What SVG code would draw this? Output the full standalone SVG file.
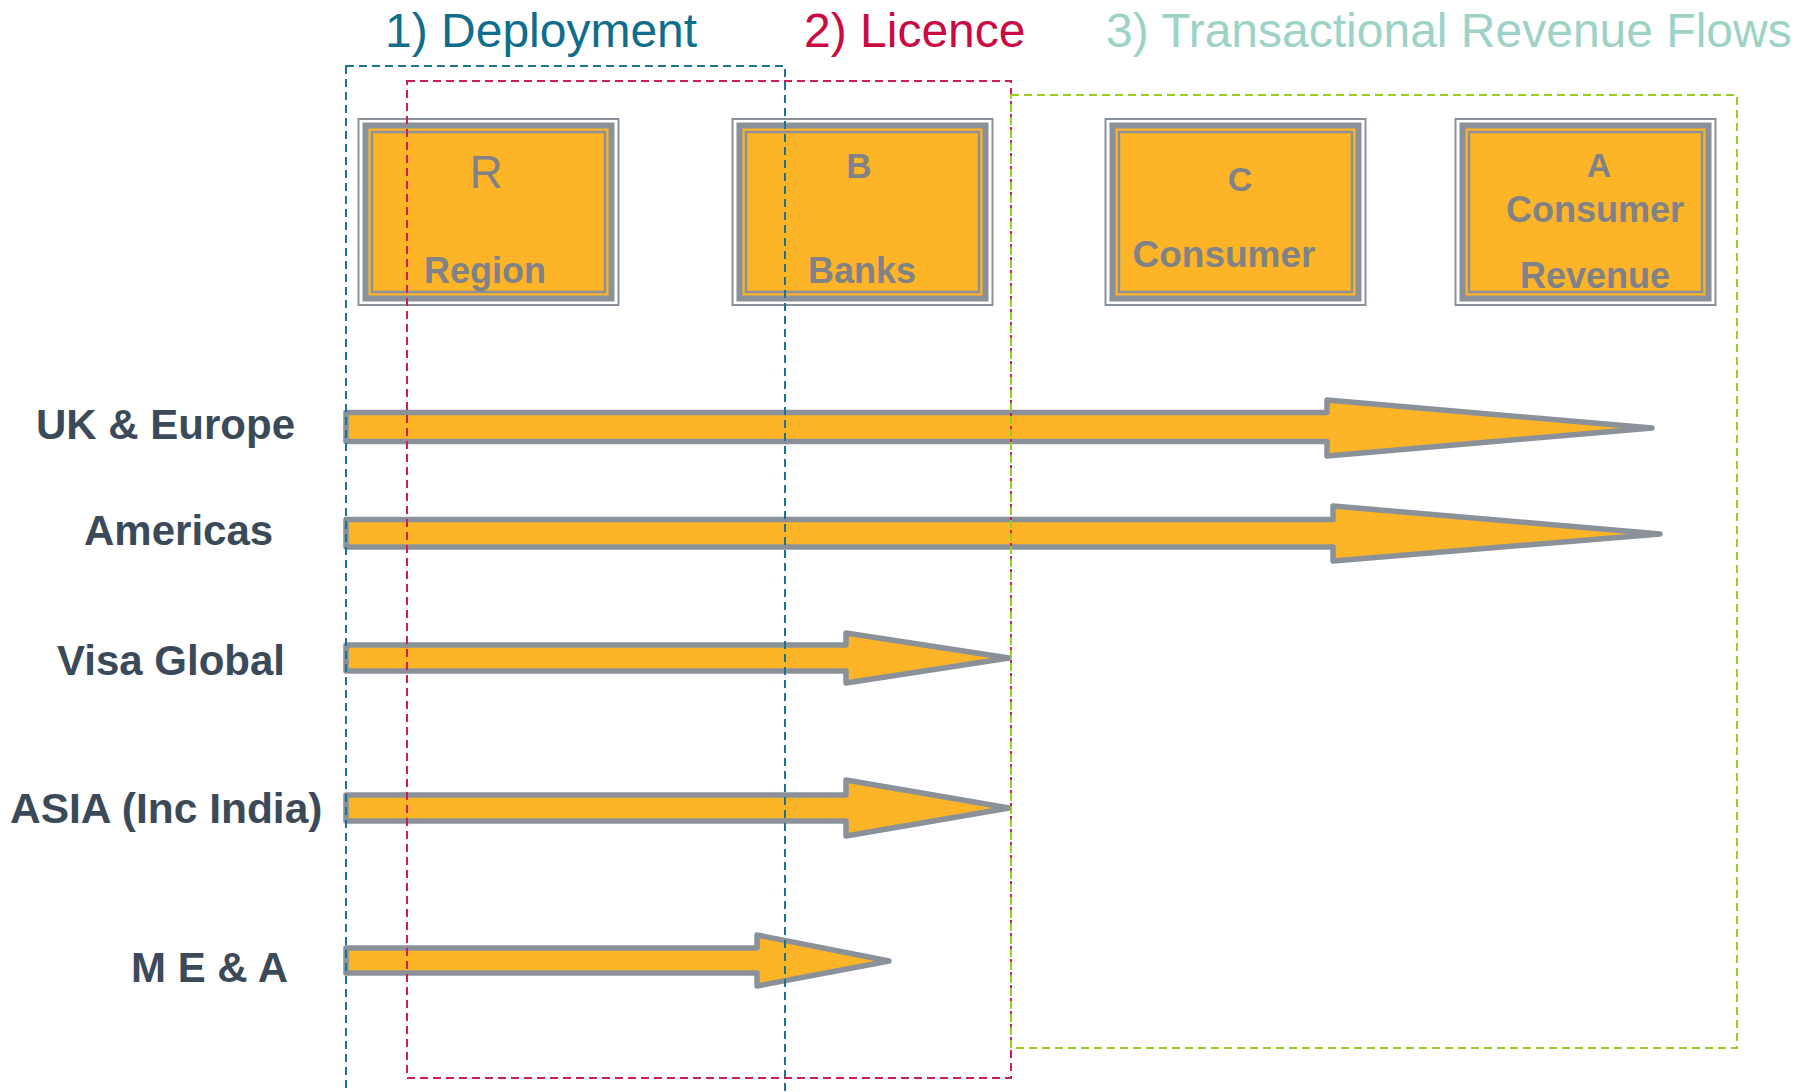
<svg xmlns="http://www.w3.org/2000/svg" width="1810" height="1092" viewBox="0 0 1810 1092">
<style>
.bg{fill:#ffffff}
.title{font-family:"Liberation Sans",Arial,sans-serif;font-size:48px}
.outer{fill:#ffffff;stroke:#8a9199;stroke-width:2}
.band{fill:#fdb426;stroke:#8a9199;stroke-width:6}
.inner{fill:none;stroke:#8a9199;stroke-width:2.5}
.bt{font-family:"Liberation Sans",Arial,sans-serif;font-weight:bold;font-size:36px;fill:#7f8287;text-anchor:middle}
.lbl{font-family:"Liberation Sans",Arial,sans-serif;font-weight:bold;font-size:42px;fill:#3b4a59}
.arrow{fill:#fdb426;stroke:#8a9199;stroke-width:5.5;stroke-linejoin:round}
.dash{fill:none;stroke-width:2;stroke-dasharray:8 5}
</style>
<rect class="bg" x="0" y="0" width="1810" height="1092"/>

<g id="titles">
<text class="title" x="385" y="47" fill="#0f6e8c">1) Deployment</text>
<text class="title" x="804" y="47" fill="#c90a43">2) Licence</text>
<text class="title" x="1106" y="47" fill="#9dd3c6">3) Transactional Revenue Flows</text>
</g>

<g id="node-R">
<rect class="outer" x="358.5" y="119" width="260" height="186"/>
<rect class="band" x="365.5" y="125.5" width="246" height="173"/>
<rect class="inner" x="372" y="132" width="233" height="160"/>
<text class="bt" x="486" y="188" style="font-weight:normal;font-size:46px">R</text>
<text class="bt" x="485" y="283">Region</text>
</g>

<g id="node-B">
<rect class="outer" x="732.5" y="119" width="260" height="186"/>
<rect class="band" x="739.5" y="125.5" width="246" height="173"/>
<rect class="inner" x="746" y="132" width="233" height="160"/>
<text class="bt" x="859" y="178" style="font-size:35px">B</text>
<text class="bt" x="862" y="283">Banks</text>
</g>

<g id="node-C">
<rect class="outer" x="1105.5" y="119" width="260" height="186"/>
<rect class="band" x="1112.5" y="125.5" width="246" height="173"/>
<rect class="inner" x="1119" y="132" width="233" height="160"/>
<text class="bt" x="1240" y="191" style="font-size:34px">C</text>
<text class="bt" x="1224" y="267" style="font-size:37px">Consumer</text>
</g>

<g id="node-A">
<rect class="outer" x="1455.5" y="119" width="260" height="186"/>
<rect class="band" x="1462.5" y="125.5" width="246" height="173"/>
<rect class="inner" x="1469" y="132" width="233" height="160"/>
<text class="bt" x="1599" y="177" style="font-size:34px">A</text>
<text class="bt" x="1595" y="222">Consumer</text>
<text class="bt" x="1595" y="288">Revenue</text>
</g>

<g id="row-labels">
<text id="lbl-uk" class="lbl" x="36" y="439">UK &amp; Europe</text>
<text id="lbl-am" class="lbl" x="84" y="545">Americas</text>
<text id="lbl-visa" class="lbl" x="57" y="675">Visa Global</text>
<text id="lbl-asia" class="lbl" x="10" y="823" style="font-size:42.5px">ASIA (Inc India)</text>
<text id="lbl-mea" class="lbl" x="131" y="982">M E &amp; A</text>
</g>

<g id="connectors">
<path class="arrow" d="M346,412.5 L1327,412.5 L1327,400 L1652,428 L1327,456 L1327,441.5 L346,441.5 Z"/>
<path class="arrow" d="M346,519.5 L1333,519.5 L1333,506 L1660,534 L1333,561 L1333,547 L346,547 Z"/>
<path class="arrow" d="M346,645 L846,645 L846,633 L1009,658 L846,683 L846,671 L346,671 Z"/>
<path class="arrow" d="M346,795 L846,795 L846,780 L1009,808 L846,836 L846,821 L346,821 Z"/>
<path class="arrow" d="M346,948 L757,948 L757,935 L889,961 L757,986 L757,973 L346,973 Z"/>
</g>

<g id="groupings">
<rect class="dash" x="346" y="66" width="439" height="1060" stroke="#1a7391"/>
<rect class="dash" x="407" y="81" width="604" height="997" stroke="#cc1f55"/>
<rect class="dash" x="1011" y="95" width="726" height="953" stroke="#9acd1e"/>
</g>
</svg>
